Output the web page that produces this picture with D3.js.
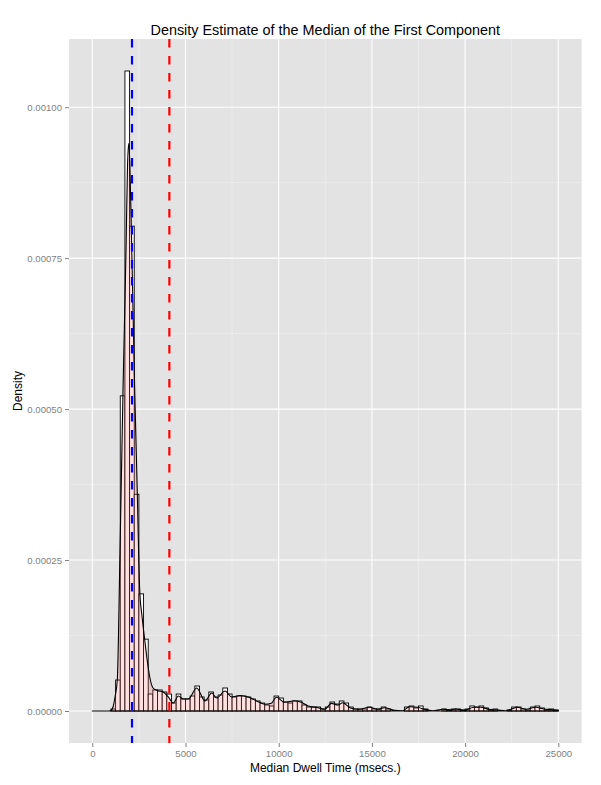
<!DOCTYPE html>
<html>
<head>
<meta charset="utf-8">
<script src="https://cdn.jsdelivr.net/npm/d3@7/dist/d3.min.js"></script>
<style>
  body { margin: 0; background: #fff; }
  text { font-family: "Liberation Sans", Arial, Helvetica, sans-serif; }
</style>
</head>
<body>
<div id="chart"></div>
<script>
"use strict";

// histogram: bins of 250 ms starting at 0, heights as density
var binWidth = 250;
var barDensity = [
    0, 0, 0, 0, 3.3e-6, 5.13e-5, 5.22e-4, 1.06e-3, 8.03e-4, 3.59e-4,
    1.94e-4, 1.19e-4, 2.81e-5, 3.48e-5, 3.48e-5, 3.15e-5, 2.81e-5, 1.32e-5, 2.81e-5, 1.99e-5,
    1.99e-5, 2.48e-5, 4.14e-5, 2.32e-5, 1.82e-5, 3.15e-5, 2.32e-5, 2.65e-5, 3.81e-5, 2.81e-5,
    2.32e-5, 2.48e-5, 2.48e-5, 2.32e-5, 1.99e-5, 1.66e-5, 1.32e-5, 9.9e-6, 8.3e-6, 2.48e-5,
    2.15e-5, 1.49e-5, 1.32e-5, 1.66e-5, 1.66e-5, 9.9e-6, 6.6e-6, 6.6e-6, 6.6e-6, 3.3e-6,
    6.6e-6, 1.49e-5, 1.16e-5, 1.66e-5, 1.32e-5, 6.6e-6, 3.3e-6, 3.3e-6, 3.3e-6, 6.6e-6,
    3.3e-6, 3.3e-6, 6.6e-6, 3.3e-6, 0, 0, 0, 6.6e-6, 8.3e-6, 5.0e-6,
    8.3e-6, 3.3e-6, 0, 0, 0, 3.3e-6, 1.7e-6, 3.3e-6, 3.3e-6, 1.7e-6,
    3.3e-6, 8.3e-6, 6.6e-6, 8.3e-6, 5.0e-6, 1.7e-6, 3.3e-6, 0, 0, 1.7e-6,
    6.6e-6, 6.6e-6, 3.3e-6, 1.7e-6, 6.6e-6, 8.3e-6, 5.0e-6, 1.7e-6, 3.3e-6, 1.7e-6
];

// kernel density estimate
var curveTime = [
    0, 900, 998, 1111, 1218, 1341, 1486, 1647, 1808, 1889,
    1953, 2012, 2093, 2275, 2399, 2543, 2667, 2812, 3080, 3257,
    3480, 3810, 4078, 4346, 4615, 4883, 5151, 5602, 6047, 6407,
    6675, 7121, 7480, 7925, 8532, 8891, 9251, 9605, 9873, 10324,
    10861, 11215, 11574, 12111, 12470, 12825, 13184, 13436, 13882, 14327,
    14864, 15315, 15669, 16205, 16656, 17010, 17461, 17815, 18266, 18802,
    19232, 19500, 19946, 20483, 20842, 21287, 21732, 22183, 22805, 23256,
    23793, 24238, 24683, 25000
];
var curveDensity = [
    0, 0, 8e-7, 6.6e-6, 2.32e-5, 5.13e-5, 2.65e-4, 5.3e-4, 7.62e-4, 9.02e-4,
    9.4e-4, 9.07e-4, 8.01e-4, 5.31e-4, 3.81e-4, 2.0e-4, 1.57e-4, 1.18e-4, 5.63e-5, 3.81e-5,
    3.4e-5, 3.15e-5, 2.32e-5, 1.32e-5, 2.48e-5, 1.99e-5, 1.99e-5, 3.81e-5, 1.66e-5, 2.98e-5,
    2.15e-5, 3.31e-5, 2.32e-5, 2.57e-5, 2.1e-5, 1.54e-5, 1.11e-5, 1.27e-5, 2.27e-5, 1.44e-5,
    1.71e-5, 1.44e-5, 8.3e-6, 5.5e-6, 2.8e-6, 1.27e-5, 9.9e-6, 1.37e-5, 4.5e-6, 2.8e-6,
    6.1e-6, 2.8e-6, 5.5e-6, 1.2e-6, 5e-7, 7.1e-6, 6.1e-6, 2.8e-6, 5e-7, 2.8e-6,
    1.7e-6, 3.3e-6, 1.2e-6, 6.1e-6, 6.1e-6, 2.8e-6, 1.7e-6, 5e-7, 6.1e-6, 2.8e-6,
    6.1e-6, 3.3e-6, 2.2e-6, 8e-7
];

// dashed reference lines
var markerTime = [2130, 4134];
var markerColor = ["#0000FF", "#FF0000"];

var xTicks = [0, 5000, 10000, 15000, 20000, 25000];
var yTicks = [0, 0.00025, 0.0005, 0.00075, 0.001];

var W = 601, H = 785;
var m = { left: 69, right: 19.4, top: 39, bottom: 42 };
var pw = W - m.left - m.right, ph = H - m.top - m.bottom;

var binStart = d3.range(barDensity.length).map(function (i) { return i * binWidth; });
var xMax = binStart[binStart.length - 1] + binWidth;
var yMax = d3.max(barDensity);

// ggplot-style 5% expansion
var x = d3.scaleLinear()
    .domain([-0.05 * xMax, 1.05 * xMax])
    .range([0, pw]);
var y = d3.scaleLinear()
    .domain([-0.05 * yMax, 1.05 * yMax])
    .range([ph, 0]);

var svg = d3.select("#chart").append("svg")
    .attr("width", W)
    .attr("height", H);

var g = svg.append("g")
    .attr("transform", "translate(" + m.left + "," + m.top + ")");

g.append("rect")
    .attr("width", pw)
    .attr("height", ph)
    .attr("fill", "#E3E3E3");

function mids(t) {
    return t.slice(1).map(function (v, i) { return (v + t[i]) / 2; });
}

// minor grid
g.append("g").selectAll("line").data(mids(xTicks)).join("line")
    .attr("x1", x).attr("x2", x).attr("y1", 0).attr("y2", ph)
    .attr("stroke", "#F2F2F2").attr("stroke-width", 0.55);
g.append("g").selectAll("line").data(mids(yTicks)).join("line")
    .attr("x1", 0).attr("x2", pw).attr("y1", y).attr("y2", y)
    .attr("stroke", "#F2F2F2").attr("stroke-width", 0.55);

// major grid
g.append("g").selectAll("line").data(xTicks).join("line")
    .attr("x1", x).attr("x2", x).attr("y1", 0).attr("y2", ph)
    .attr("stroke", "#FFFFFF").attr("stroke-width", 1.1);
g.append("g").selectAll("line").data(yTicks).join("line")
    .attr("x1", 0).attr("x2", pw).attr("y1", y).attr("y2", y)
    .attr("stroke", "#FFFFFF").attr("stroke-width", 1.1);

// histogram bars
g.append("g").selectAll("rect").data(barDensity).join("rect")
    .attr("x", function (d, i) { return x(binStart[i]); })
    .attr("width", function (d, i) { return x(binStart[i] + binWidth) - x(binStart[i]); })
    .attr("y", function (d) { return y(d); })
    .attr("height", function (d) { return y(0) - y(d); })
    .attr("fill", "#FFFFFF")
    .attr("stroke", "#000000")
    .attr("stroke-width", 0.9);

// density
var dens = curveTime.map(function (t, i) { return [t, curveDensity[i]]; });
var area = d3.area()
    .curve(d3.curveMonotoneX)
    .x(function (d) { return x(d[0]); })
    .y0(y(0))
    .y1(function (d) { return y(d[1]); });
g.append("path")
    .datum(dens)
    .attr("d", area)
    .attr("fill", "#FF6666")
    .attr("fill-opacity", 0.2)
    .attr("stroke", "#000000")
    .attr("stroke-width", 1.1)
    .attr("stroke-linejoin", "round");

// dashed vertical lines
g.append("g").selectAll("line").data(markerTime).join("line")
    .attr("x1", x).attr("x2", x).attr("y1", 0).attr("y2", ph)
    .attr("stroke", function (d, i) { return markerColor[i]; })
    .attr("stroke-width", 2.2)
    .attr("stroke-dasharray", "8.5,8.5");

// axes
var xAxis = g.append("g")
    .attr("transform", "translate(0," + ph + ")")
    .call(d3.axisBottom(x).tickValues(xTicks).tickSize(4).tickPadding(3).tickFormat(d3.format("d")));
var yAxis = g.append("g")
    .call(d3.axisLeft(y).tickValues(yTicks).tickSize(4).tickPadding(3).tickFormat(d3.format(".5f")));

[xAxis, yAxis].forEach(function (a) {
    a.select(".domain").remove();
    a.selectAll(".tick line").attr("stroke", "#7F7F7F");
    a.selectAll(".tick text")
        .attr("fill", "#7F7F7F")
        .style("font-size", "9.6px")
        .style("font-family", "'Liberation Sans', Arial, sans-serif");
});

// titles
svg.append("text")
    .attr("x", m.left + pw / 2)
    .attr("y", 35)
    .attr("text-anchor", "middle")
    .style("font-size", "14.4px")
    .text("Density Estimate of the Median of the First Component");

svg.append("text")
    .attr("x", m.left + pw / 2)
    .attr("y", 772)
    .attr("text-anchor", "middle")
    .style("font-size", "12px")
    .text("Median Dwell Time (msecs.)");

svg.append("text")
    .attr("transform", "translate(22," + (m.top + ph / 2) + ") rotate(-90)")
    .attr("text-anchor", "middle")
    .style("font-size", "12px")
    .text("Density");
</script>
</body>
</html>
